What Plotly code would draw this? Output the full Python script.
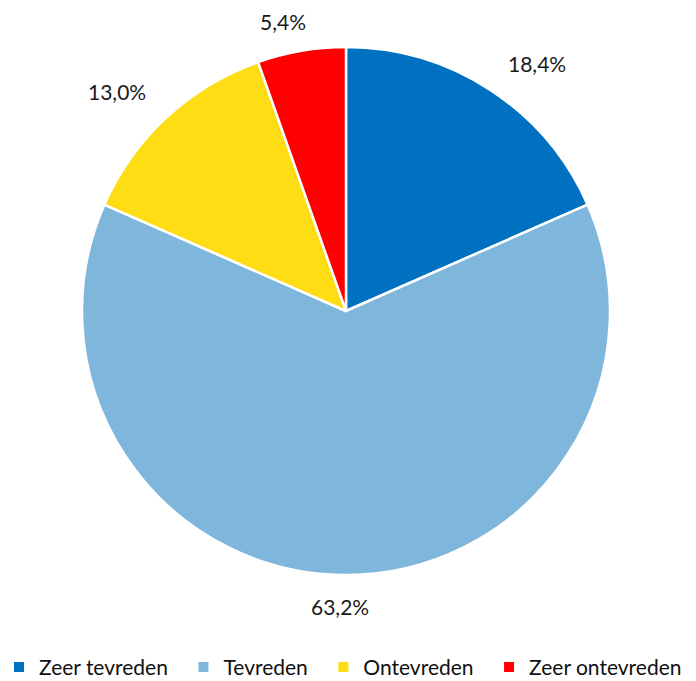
import plotly.graph_objects as go

categories = ["Zeer tevreden", "Tevreden", "Ontevreden", "Zeer ontevreden"]
shares = [18.4, 63.2, 13.0, 5.4]
colors = ["#0070C0", "#7FB6DC", "#FFDD15", "#FF0000"]

# label anchor points (paper coords) for the percentage texts
label_pos = [(0.772, 0.907), (0.489, 0.109), (0.168, 0.865), (0.407, 0.968)]

FONT = "Lato"
GAP = "\u2002"  # extra room between legend entries

fig = go.Figure(
    go.Pie(
        labels=[c + GAP for c in categories],
        values=shares,
        marker=dict(colors=colors, line=dict(color="white", width=2.5)),
        sort=False,
        direction="clockwise",
        rotation=0,
        textinfo="none",
        hoverinfo="label+percent",
        domain=dict(x=[82 / 696, 610 / 696], y=[1 - 575 / 681, 1 - 47 / 681]),
    )
)

for v, (x, y) in zip(shares, label_pos):
    fig.add_annotation(
        x=x, y=y, xref="paper", yref="paper",
        xanchor="center", yanchor="middle",
        text=f"{v:.1f}%".replace(".", ","),
        showarrow=False,
        font=dict(family=FONT, size=21, color="#1a1a1a"),
    )

fig.update_layout(
    width=696, height=681,
    margin=dict(l=0, r=0, t=0, b=0, autoexpand=False),
    paper_bgcolor="white",
    plot_bgcolor="white",
    font=dict(family=FONT, size=21, color="#111"),
    legend=dict(
        orientation="h",
        x=0.5, xanchor="center",
        y=-0.01, yanchor="bottom",
        itemsizing="constant",
        font=dict(family=FONT, size=21, color="#111"),
        itemwidth=30,
        traceorder="normal",
    ),
)

fig.write_html("out.html")
